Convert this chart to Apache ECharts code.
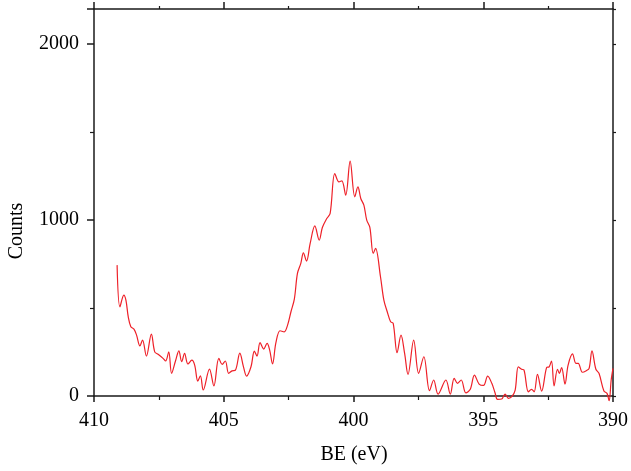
<!DOCTYPE html>
<html>
<head>
<meta charset="utf-8">
<script src="https://cdn.jsdelivr.net/npm/echarts@6/dist/echarts.min.js"></script>
<style>
html,body{margin:0;padding:0;background:#fff;}
#chart{width:631px;height:471px;}
</style>
</head>
<body>
<div id="chart"></div>
<script>
const bindingEnergy = [
409.11,409.00,408.85,408.77,408.68,408.58,408.46,408.36,408.23,408.13,
407.98,407.79,407.66,407.53,407.34,407.24,407.12,407.01,406.86,406.73,
406.62,406.51,406.38,406.23,406.12,406.00,405.90,405.79,405.55,405.38,
405.19,405.06,404.94,404.81,404.68,404.55,404.38,404.24,404.12,403.95,
403.82,403.72,403.60,403.46,403.33,403.23,403.12,402.99,402.83,402.67,
402.54,402.41,402.28,402.16,402.03,401.93,401.81,401.67,401.49,401.32,
401.20,401.03,400.90,400.72,400.56,400.45,400.30,400.13,399.95,399.83,
399.72,399.60,399.49,399.37,399.24,399.15,398.96,398.83,398.70,398.57,
398.47,398.32,398.17,398.03,397.90,397.68,397.49,397.29,397.07,396.91,
396.74,396.44,396.27,396.12,395.99,395.85,395.67,395.50,395.34,395.16,
394.99,394.83,394.67,394.55,394.45,394.29,394.16,394.03,393.90,393.77,
393.65,393.52,393.43,393.26,393.14,393.04,392.91,392.75,392.56,392.46,
392.37,392.27,392.14,392.07,391.98,391.85,391.73,391.56,391.43,391.34,
391.18,391.03,390.92,390.81,390.66,390.54,390.35,390.23,390.15,390.07,
390.00
];
const counts = [
744,507,574,545,450,394,380,346,285,318,
227,352,251,237,214,199,251,129,199,257,
195,242,182,204,176,85,115,34,153,57,
214,180,199,129,143,147,244,166,113,166,
255,227,303,267,299,261,182,303,371,365,
403,479,551,697,754,814,767,867,967,886,
958,1009,1038,1265,1217,1223,1142,1335,1132,1189,
1123,1085,1000,958,810,839,678,545,479,422,
413,246,346,242,123,318,129,223,30,91,
11,91,11,100,72,91,18,38,119,68,
60,113,72,20,-19,-17,11,-13,-4,34,
166,152,148,24,38,24,123,28,161,166,
199,57,152,129,161,68,176,239,186,186,
135,144,157,256,152,129,28,15,-27,91,
157
];
const xTicks = [410, 405, 400, 395, 390];
const yTicks = [0, 1000, 2000];
const xTitle = 'BE (eV)';
const yTitle = 'Counts';

const fontFamily = '"Liberation Serif", "DejaVu Serif", serif';
const data = bindingEnergy.map((x, i) => [x, counts[i]]);
const axisLine = { show: true, onZero: false, lineStyle: { color: '#1a1a1a', width: 1.5 } };

const chart = echarts.init(document.getElementById('chart'), null, { renderer: 'canvas' });
chart.setOption({
  animation: false,
  backgroundColor: '#fff',
  grid: { left: 94, right: 16, top: 9, bottom: 75, containLabel: false },
  xAxis: [
    {
      type: 'value', position: 'bottom', inverse: true,
      min: 390, max: 410, interval: 5,
      axisLine: axisLine,
      axisTick: { show: true, inside: false, length: 6, lineStyle: { color: '#1a1a1a', width: 1.5 } },
      minorTick: { show: true, splitNumber: 2, length: 4, lineStyle: { color: '#1a1a1a', width: 1.2 } },
      splitLine: { show: false },
      axisLabel: {
        margin: 15, fontSize: 20, color: '#000', fontFamily: fontFamily,
        formatter: v => xTicks.includes(v) ? String(v) : ''
      }
    },
    {
      type: 'value', position: 'top', inverse: true,
      min: 390, max: 410, interval: 5,
      axisLine: axisLine,
      axisTick: { show: true, inside: false, length: 7, lineStyle: { color: '#1a1a1a', width: 1.5 } },
      minorTick: { show: true, splitNumber: 2, length: 3, lineStyle: { color: '#1a1a1a', width: 1.2 } },
      splitLine: { show: false },
      axisLabel: { show: false }
    }
  ],
  yAxis: [
    {
      type: 'value', position: 'left',
      min: 0, max: 2200, interval: 1000,
      axisLine: axisLine,
      axisTick: { show: true, inside: false, length: 7, lineStyle: { color: '#1a1a1a', width: 1.5 } },
      minorTick: { show: true, splitNumber: 2, length: 4, lineStyle: { color: '#1a1a1a', width: 1.2 } },
      splitLine: { show: false },
      axisLabel: {
        margin: 15, fontSize: 20, color: '#000', fontFamily: fontFamily,
        formatter: v => yTicks.includes(v) ? String(v) : ''
      }
    },
    {
      type: 'value', position: 'right',
      min: 0, max: 2200, interval: 1000,
      axisLine: axisLine,
      axisTick: { show: true, inside: false, length: 3, lineStyle: { color: '#1a1a1a', width: 1.2 } },
      minorTick: { show: true, splitNumber: 2, length: 3, lineStyle: { color: '#1a1a1a', width: 1.2 } },
      splitLine: { show: false },
      axisLabel: { show: false }
    }
  ],
  graphic: [
    {
      type: 'text', x: 354, y: 455,
      style: { text: xTitle, font: '20px ' + fontFamily, fill: '#000', textAlign: 'center', textVerticalAlign: 'middle' }
    },
    {
      type: 'text', x: 17, y: 231, rotation: Math.PI / 2,
      style: { text: yTitle, font: '20px ' + fontFamily, fill: '#000', textAlign: 'center', textVerticalAlign: 'middle' }
    }
  ],
  series: [
    {
      type: 'line', xAxisIndex: 0, yAxisIndex: 0,
      data: data, showSymbol: false, symbol: 'none',
      smooth: 0.35, clip: false,
      lineStyle: { color: '#ee2028', width: 1.2 }
    }
  ]
});
</script>
</body>
</html>
